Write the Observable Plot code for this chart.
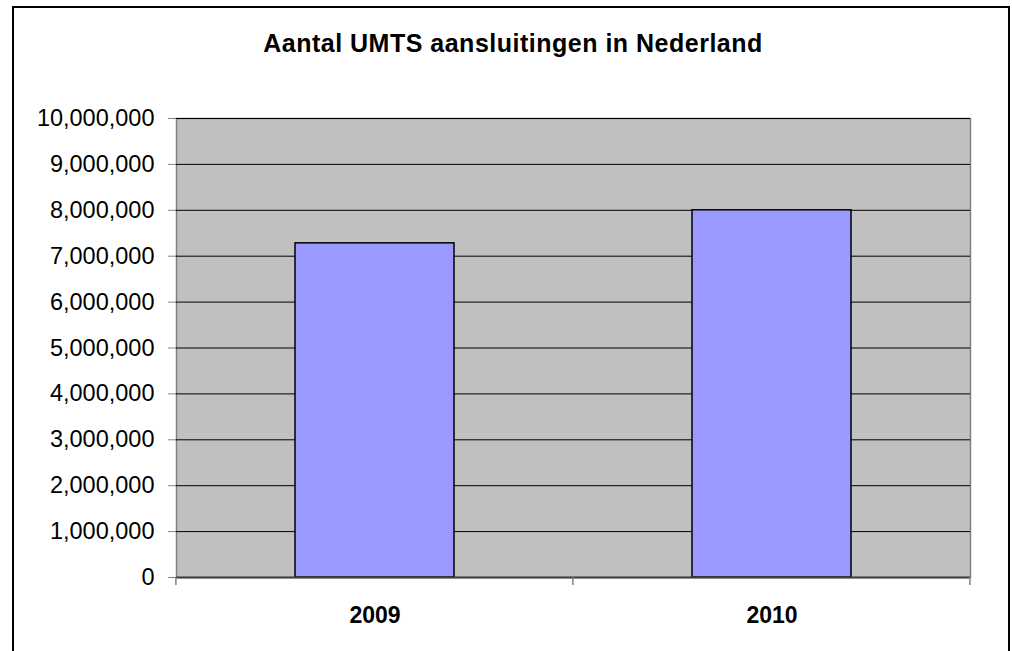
<!DOCTYPE html>
<html>
<head>
<meta charset="utf-8">
<script src="https://cdn.jsdelivr.net/npm/d3@7"></script>
<script src="https://cdn.jsdelivr.net/npm/@observablehq/plot@0.6"></script>
<style>
  html, body { margin: 0; padding: 0; background: #fff; }
  #wrap { position: relative; width: 1012px; height: 651px; overflow: hidden; font-family: "Liberation Sans", Arial, sans-serif; }
  #border { position: absolute; left: 12px; top: 6px; width: 998px; height: 700px; border: 2px solid #000; box-sizing: border-box; }
  #title { position: absolute; left: 0; top: 29px; width: 1026px; text-align: center; font-size: 25px; line-height: 29px; font-weight: bold; color: #000; letter-spacing: 0.5px; }
  #chart { position: absolute; left: 0; top: 0; }
</style>
</head>
<body>
<div id="wrap">
  <div id="border"></div>
  <div id="title">Aantal UMTS aansluitingen in Nederland</div>
  <div id="chart"></div>
</div>
<script>
const years = ["2009", "2010"];
const connections = [7280000, 8000000];
const yTicks = [0, 1000000, 2000000, 3000000, 4000000, 5000000, 6000000, 7000000, 8000000, 9000000, 10000000];

const data = years.map((y, i) => ({year: y, value: connections[i]}));
const padInner = 0.6;

// x-axis tick marks at category boundaries (Excel style), derived from the band scale
const boundaryTicks = (index, scales) => {
  const x = scales.x, y = scales.y;
  const step = x(years[1]) - x(years[0]);
  const bw = step * (1 - padInner);
  const gap = (step - bw) / 2;
  const edges = [x(years[0]) - gap, ...years.map(c => x(c) + bw + gap)];
  const y0 = y(0);
  const g = d3.create("svg:g");
  for (const px of edges) {
    g.append("line").attr("x1", px).attr("x2", px).attr("y1", y0).attr("y2", y0 + 8)
      .attr("stroke", "#808080").attr("stroke-width", 1.5);
  }
  return g.node();
};

const plot = Plot.plot({
  width: 1012,
  height: 651,
  marginLeft: 176,
  marginRight: 42,
  marginTop: 118,
  marginBottom: 74,
  style: {fontFamily: "'Liberation Sans', Arial, sans-serif", fontSize: "23px", color: "#000", background: "transparent"},
  x: {domain: years, paddingInner: padInner, paddingOuter: 0.3, label: null},
  y: {domain: [0, 10000000], label: null},
  marks: [
    Plot.frame({fill: "#c0c0c0", stroke: "#808080", strokeWidth: 1.5}),
    Plot.ruleY(yTicks, {stroke: "#000", strokeWidth: 1}),
    Plot.barY(data, {x: "year", y: "value", fill: "#9999ff", stroke: "#000", strokeWidth: 1.5}),
    Plot.ruleY([0], {stroke: "#404040", strokeWidth: 2}),
    Plot.axisY({ticks: yTicks, tickFormat: d3.format(","), tickSize: 8, tickPadding: 14, stroke: "#808080", fontSize: 23.5, label: null}),
    Plot.axisX({tickSize: 0, tickPadding: 29, fontSize: 23, fontWeight: "bold", label: null}),
    boundaryTicks
  ]
});
document.getElementById("chart").appendChild(plot);
</script>
</body>
</html>
